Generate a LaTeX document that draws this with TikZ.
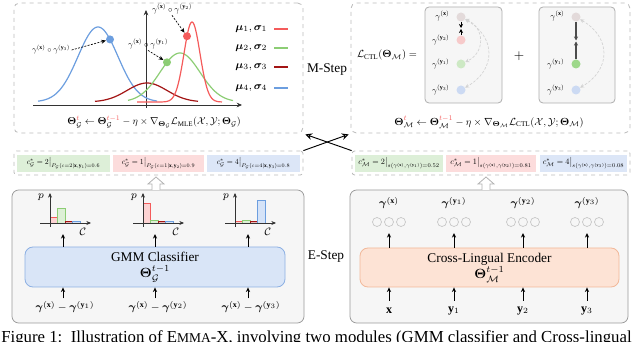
\documentclass[tikz,border=0pt]{standalone}
\usepackage{amsmath,amssymb,bm}
\usepackage{graphicx}
\usepackage{fontspec}
\setmainfont{Liberation Serif}
\usetikzlibrary{arrows.meta,fit,calc}
\definecolor{cred}{HTML}{F45B5B}
\definecolor{cgreen}{HTML}{8CCD74}
\definecolor{cdred}{HTML}{A31515}
\definecolor{cblue}{HTML}{6C9EDF}
\definecolor{bred}{HTML}{FCD3D3}
\definecolor{bgreen}{HTML}{DDF0D6}
\definecolor{bdred}{HTML}{E8B4B4}
\definecolor{bblue}{HTML}{D5E3F8}
\definecolor{fgreen}{HTML}{DDEFD8}
\definecolor{fred}{HTML}{FCDCDC}
\definecolor{fblue}{HTML}{DCE6F7}
\definecolor{boxgray}{HTML}{9A9A9A}
\definecolor{dashgray}{HTML}{BBBBBB}
\definecolor{panelfill}{HTML}{F6F6F6}
\definecolor{gmmfill}{HTML}{D9E5F7}
\definecolor{gmmdraw}{HTML}{8DB0E3}
\definecolor{encfill}{HTML}{FDE3D5}
\definecolor{encdraw}{HTML}{F2B899}
\definecolor{dgx}{HTML}{E3DADA}
\definecolor{dred}{HTML}{F7CACA}
\definecolor{dgreen}{HTML}{CDE9C4}
\definecolor{dblue}{HTML}{CCDAF3}
\definecolor{sgreen}{HTML}{9DD88A}
\begin{document}
\begin{tikzpicture}[x=0.75pt,y=-0.75pt,
  dpanel/.style={draw=dashgray,dashed,rounded corners=4pt,line width=0.6pt,inner sep=0pt},
  mpanel/.style={draw=dashgray,dashed,rounded corners=2pt,line width=0.6pt,inner sep=0pt},
  spanel/.style={draw=boxgray,fill=panelfill,rounded corners=5pt,line width=0.6pt,inner sep=0pt},
  ibox/.style={draw=boxgray!80,fill=panelfill,rounded corners=3pt,line width=0.6pt,inner sep=0pt},
  tip/.style={-{Stealth[open,length=3.5pt,width=3.2pt]},line width=0.5pt},
  dtip/.style={-{Stealth[length=3.5pt,width=3pt]},line width=0.5pt,dash pattern=on 1.5pt off 1pt},
  dot/.style={circle,inner sep=0pt,minimum size=6pt},
  bdot/.style={circle,inner sep=0pt,minimum size=6.75pt},
  gcirc/.style={circle,draw=gray!45,line width=0.5pt,inner sep=0pt,minimum size=6.75pt},
  gauss/.style={line width=0.9pt,smooth,samples=120},
  lab/.style={inner sep=1pt},
  pull/.style={-{Stealth[length=3pt,width=3pt]},line width=0.5pt},
  push/.style={{Stealth[length=3pt,width=3pt]}-{Stealth[length=3pt,width=3pt]},draw=gray!35,line width=0.5pt,dash pattern=on 2pt off 1.2pt},
  axis/.style={-{Stealth[length=4pt,width=3.5pt]},line width=0.6pt,black!80},
  bar/.style={line width=0.5pt},
  cross/.style={-{Stealth[open,length=5pt,width=5pt]},line width=0.7pt},
  blockarrow/.style={draw=gray!60,line width=0.6pt,fill=white},
]
\useasboundingbox (0,0) rectangle (640,342);
\clip (0,0) rectangle (640,342);

%% ---------------- top-left panel (GMM M-step)
\coordinate (tla) at (14,3); \coordinate (tlb) at (303,133);
\node[dpanel,fit=(tla)(tlb)] (TL) {};
\coordinate (hx0) at (33,105); \coordinate (hx1) at (242,105);
\coordinate (vy0) at (146,108); \coordinate (vy1) at (146,10);
\draw[axis] (hx0) -- (hx1);
\draw[axis] (vy0) -- (vy1);
\draw[gauss,cblue,domain=38:157] plot (\x,{102-75*exp(-((\x-98)^2)/800)});
\draw[gauss,cdred,domain=95:198] plot (\x,{102-19*exp(-((\x-147)^2)/800)});
\draw[gauss,cgreen,domain=128:233] plot (\x,{102-49*exp(-((\x-180)^2)/800)});
\draw[gauss,cred,domain=137:222] plot (\x,{102-80*exp(-((\x-192)^2)/128)});
\node[dot,fill=cblue] (pb) at (110,39.4) {};
\node[dot,fill=cgreen] (pg) at (167,62.3) {};
\node[dot,fill=cred] (pr) at (187,36.2) {};
\node[lab] (l3) at (51,50) {\resizebox{28.5pt}{!}{$\gamma^{(\mathbf{x})}\circ\gamma^{(\mathbf{y}_3)}$}};
\node[lab] (l1) at (148,44) {\resizebox{30pt}{!}{$\gamma^{(\mathbf{x})}\circ\gamma^{(\mathbf{y}_1)}$}};
\node[lab] (l2) at (172,9) {\resizebox{30pt}{!}{$\gamma^{(\mathbf{x})}\circ\gamma^{(\mathbf{y}_2)}$}};
\draw[dtip] (l3.east) -- (pb);
\draw[dtip] (l1.south) -- (pg);
\draw[dtip] (l2.south) -- (pr);
\node[font=\footnotesize,anchor=east] (m1) at (272,29) {$\boldsymbol{\mu}_1,\boldsymbol{\sigma}_1$};
\node[font=\footnotesize,anchor=east] (m2) at (272,48) {$\boldsymbol{\mu}_2,\boldsymbol{\sigma}_2$};
\node[font=\footnotesize,anchor=east] (m3) at (272,67) {$\boldsymbol{\mu}_3,\boldsymbol{\sigma}_3$};
\node[font=\footnotesize,anchor=east] (m4) at (272,88) {$\boldsymbol{\mu}_4,\boldsymbol{\sigma}_4$};
\draw[cred,line width=0.9pt] ($(m1.east)+(2,0)$) -- ++(14,0);
\draw[cgreen,line width=0.9pt] ($(m2.east)+(2,0)$) -- ++(14,0);
\draw[cdred,line width=0.9pt] ($(m3.east)+(2,0)$) -- ++(14,0);
\draw[cblue,line width=0.9pt] ($(m4.east)+(2,0)$) -- ++(14,0);
\node (fG) at (154,122) {\resizebox{130pt}{!}{$\boldsymbol{\Theta}^{\textcolor{cred}{t}}_{\mathcal{G}}\leftarrow\boldsymbol{\Theta}^{\textcolor{cred}{t-1}}_{\mathcal{G}}-\eta\times\nabla_{\boldsymbol{\Theta}_{\mathcal{G}}}\mathcal{L}_{\mathrm{MLE}}(\mathcal{X},\mathcal{Y};\boldsymbol{\Theta}_{\mathcal{G}})$}};

%% ---------------- top-right panel (encoder M-step)
\coordinate (tra) at (351,3); \coordinate (trb) at (630,133);
\node[dpanel,fit=(tra)(trb)] (TR) {};
\node (mstep) at (327,70) {M-Step};
\node (lctl) at (387,55) {\resizebox{45pt}{!}{$\mathcal{L}_{\mathrm{CTL}}(\boldsymbol{\Theta}_{\mathcal{M}})=$}};
\coordinate (b1a) at (425,7); \coordinate (b1b) at (502,103);
\node[ibox,fit=(b1a)(b1b)] (B1) {};
\coordinate (b2a) at (539,7); \coordinate (b2b) at (615,103);
\node[ibox,fit=(b2a)(b2b)] (B2) {};
\node (plus) at (519,56) {$+$};
% box 1
\node[bdot,fill=dgx] (ax) at (461,17) {};
\node[bdot,fill=dred] (ay2) at (461,40) {};
\node[bdot,fill=dgreen] (ay1) at (461,64) {};
\node[bdot,fill=dblue] (ay3) at (461,90) {};
\node[lab,anchor=east] (tax) at (451,16) {\resizebox{10.5pt}{!}{$\gamma^{(\mathbf{x})}$}};
\node[lab,anchor=east] (tay2) at (451,40) {\resizebox{13pt}{!}{$\gamma^{(\mathbf{y}_2)}$}};
\node[lab,anchor=east] (tay1) at (451,64) {\resizebox{13pt}{!}{$\gamma^{(\mathbf{y}_1)}$}};
\node[lab,anchor=east] (tay3) at (451,90) {\resizebox{13pt}{!}{$\gamma^{(\mathbf{y}_3)}$}};
\coordinate (amid) at (461,28.5);
\draw[pull] (ax) -- ($(amid)+(0,-0.5)$);
\draw[pull] (ay2) -- ($(amid)+(0,0.5)$);
\draw[push] (ax) to[bend left=65,looseness=1.3] (ay1);
\draw[push] (ax) to[bend left=60,looseness=1.35] (ay3);
% box 2
\node[bdot,fill=dgx] (cx) at (576,17) {};
\node[bdot,fill=sgreen] (cy1) at (576,64) {};
\node[bdot,fill=dblue] (cy3) at (576,90) {};
\node[lab,anchor=east] (tcx) at (566,16) {\resizebox{10.5pt}{!}{$\gamma^{(\mathbf{x})}$}};
\node[lab,anchor=east] (tcy1) at (566,64) {\resizebox{13pt}{!}{$\gamma^{(\mathbf{y}_1)}$}};
\node[lab,anchor=east] (tcy3) at (566,90) {\resizebox{13pt}{!}{$\gamma^{(\mathbf{y}_3)}$}};
\coordinate (cmid) at (576,41);
\draw[pull,black!70,line width=0.8pt] (cx) -- ($(cmid)+(0,-0.5)$);
\draw[pull,black!70,line width=0.8pt] (cy1) -- ($(cmid)+(0,0.5)$);
\draw[push] (cx) to[bend left=60,looseness=1.35] (cy3);
\node (fM) at (489,122) {\resizebox{142pt}{!}{$\boldsymbol{\Theta}^{\textcolor{cred}{t}}_{\mathcal{M}}\leftarrow\boldsymbol{\Theta}^{\textcolor{cred}{t-1}}_{\mathcal{M}}-\eta\times\nabla_{\boldsymbol{\Theta}_{\mathcal{M}}}\mathcal{L}_{\mathrm{CTL}}(\mathcal{X},\mathcal{Y};\boldsymbol{\Theta}_{\mathcal{M}})$}};

%% ---------------- middle row
\coordinate (mla) at (14,151); \coordinate (mlb) at (303,175);
\node[mpanel,fit=(mla)(mlb)] (ML) {};
\coordinate (mra) at (352,151); \coordinate (mrb) at (630,175);
\node[mpanel,fit=(mra)(mrb)] (MR) {};
\fill[fgreen] (17,155) rectangle (110,172);
\fill[fred] (113,155) rectangle (204,172);
\fill[fblue] (207,155) rectangle (300,172);
\fill[fgreen] (355,155) rectangle (443,172);
\fill[fred] (446,155) rectangle (536,172);
\fill[fblue] (540,155) rectangle (627,172);
\node (cg1) at (63.5,163.5) {\resizebox{55pt}{!}{$c^*_{\mathcal{G}}=2\big|_{P_{\mathcal{G}}(c=2|\mathbf{x},\mathbf{y}_1)=0.6}$}};
\node (cg2) at (158.5,163.5) {\resizebox{55pt}{!}{$c^*_{\mathcal{G}}=1\big|_{P_{\mathcal{G}}(c=1|\mathbf{x},\mathbf{y}_2)=0.9}$}};
\node (cg3) at (253.5,163.5) {\resizebox{55pt}{!}{$c^*_{\mathcal{G}}=4\big|_{P_{\mathcal{G}}(c=4|\mathbf{x},\mathbf{y}_3)=0.8}$}};
\node (cm1) at (399,163.5) {\resizebox{61pt}{!}{$c^*_{\mathcal{M}}=2\big|_{s(\gamma^{(\mathbf{x})},\gamma^{(\mathbf{y}_1)})=0.52}$}};
\node (cm2) at (491,163.5) {\resizebox{61pt}{!}{$c^*_{\mathcal{M}}=1\big|_{s(\gamma^{(\mathbf{x})},\gamma^{(\mathbf{y}_2)})=0.81}$}};
\node (cm3) at (583.5,163.5) {\resizebox{61pt}{!}{$c^*_{\mathcal{M}}=4\big|_{s(\gamma^{(\mathbf{x})},\gamma^{(\mathbf{y}_3)})=0.08}$}};
% crossing arrows
\draw[cross] (ML.north east) -- ($(TR.south west)+(-2,1)$);
\draw[cross] (MR.north west) -- ($(TL.south east)+(2,1)$);

%% ---------------- bottom panels
\coordinate (bla) at (12,190); \coordinate (blb) at (304,323);
\node[spanel,fit=(bla)(blb)] (BL) {};
\coordinate (bra) at (350,190); \coordinate (brb) at (628,323);
\node[spanel,fit=(bra)(brb)] (BR) {};
\node (estep) at (326,257) {E-Step};
% hollow block arrows
\draw[blockarrow] (152,190) -- (152,184) -- (148,184) -- (156,177) -- (164,184) -- (160,184) -- (160,190);
\draw[blockarrow] (482,190) -- (482,184) -- (478,184) -- (486,177) -- (494,184) -- (490,184) -- (490,190);

% GMM classifier
\coordinate (ga) at (25,247); \coordinate (gb) at (285,287);
\node[draw=gmmdraw,fill=gmmfill,rounded corners=6pt,line width=0.6pt,inner sep=0pt,fit=(ga)(gb)] (gmm) {};
\node[align=center,inner sep=0pt] (gmmt) at (gmm.center) {GMM Classifier\\[0pt]$\boldsymbol{\Theta}^{t-1}_{\mathcal{G}}$};
\foreach \ax/\hr/\hg/\hd/\hb [count=\i] in {50/6/15/2/2, 143/20/3/2/2, 235/2/3/2/23}{
  \draw[bar,draw=cred,fill=bred] (\ax,223) rectangle ++(7.5,-\hr);
  \draw[bar,draw=cgreen,fill=bgreen] ({\ax+7.5},223) rectangle ++(7.5,-\hg);
  \draw[bar,draw=cdred,fill=bdred] ({\ax+15},223) rectangle ++(7.5,-\hd);
  \draw[bar,draw=cblue,fill=bblue] ({\ax+22.5},223) rectangle ++(7.5,-\hb);
  \coordinate (hh0-\i) at ({\ax-10},223); \coordinate (hh1-\i) at ({\ax+41},223);
  \coordinate (hv0-\i) at (\ax,227); \coordinate (hv1-\i) at (\ax,193);
  \draw[axis,line width=0.5pt,-{Stealth[length=3.5pt,width=3pt]}] (hh0-\i) -- (hh1-\i);
  \draw[axis,line width=0.5pt,-{Stealth[length=3.5pt,width=3pt]}] (hv0-\i) -- (hv1-\i);
  \node[font=\footnotesize,inner sep=0pt] (hp-\i) at ({\ax-9},197) {$p$};
  \node[font=\footnotesize,inner sep=0pt] (hc-\i) at ({\ax+33},232) {$\mathcal{C}$};
}
\coordinate (h1) at (63,234); \coordinate (h2) at (155,234); \coordinate (h3) at (248,234);
\node[font=\footnotesize] (in1) at (65,307) {$\boldsymbol{\gamma}^{(\mathbf{x})}-\boldsymbol{\gamma}^{(\mathbf{y}_1)}$};
\node[font=\footnotesize] (in2) at (158,307) {$\boldsymbol{\gamma}^{(\mathbf{x})}-\boldsymbol{\gamma}^{(\mathbf{y}_2)}$};
\node[font=\footnotesize] (in3) at (251,307) {$\boldsymbol{\gamma}^{(\mathbf{x})}-\boldsymbol{\gamma}^{(\mathbf{y}_3)}$};
\draw[tip] (gmm.north -| h1) -- (h1);
\draw[tip] (gmm.north -| h2) -- (h2);
\draw[tip] (gmm.north -| h3) -- (h3);
\draw[tip] ($(in1.north -| h1)+(0,2)$) -- (gmm.south -| h1);
\draw[tip] ($(in2.north -| h2)+(0,2)$) -- (gmm.south -| h2);
\draw[tip] ($(in3.north -| h3)+(0,2)$) -- (gmm.south -| h3);

% Encoder
\coordinate (ea) at (360,248); \coordinate (eb) at (619,287);
\node[draw=encdraw,fill=encfill,rounded corners=6pt,line width=0.6pt,inner sep=0pt,fit=(ea)(eb)] (enc) {};
\node[align=center,inner sep=0pt] (enct) at (enc.center) {Cross-Lingual Encoder\\[0pt]$\boldsymbol{\Theta}^{t-1}_{\mathcal{M}}$};
\foreach \cx/\lb [count=\i] in {389/\mathbf{x}, 454/\mathbf{y}_1, 523/\mathbf{y}_2, 587/\mathbf{y}_3}{
  \node[font=\small] (ein\i) at (\cx,311) {$\lb$};
  \node[font=\footnotesize] (eg\i) at (\cx,203) {$\boldsymbol{\gamma}^{(\lb)}$};
  \node[gcirc] (eca\i) at ({\cx-12},222) {};
  \node[gcirc] (ecb\i) at (\cx,222) {};
  \node[gcirc] (ecc\i) at ({\cx+12},222) {};
  \coordinate (et\i) at (\cx,233);
  \coordinate (eu\i) at (\cx,301);
  \draw[tip] (eu\i) -- (enc.south -| eu\i);
  \draw[tip] (enc.north -| et\i) -- (et\i);
}

%% ---------------- caption (cut off)
\node[anchor=base west,inner sep=0pt,font=\fontsize{12.6}{15}\selectfont] (cap) at (1,343) {Figure 1:\ \ Illustration of E{\fontsize{10.1}{12}\selectfont MMA}-X, involving two modules (GMM classifier and Cross-lingual};
\end{tikzpicture}
\end{document}
